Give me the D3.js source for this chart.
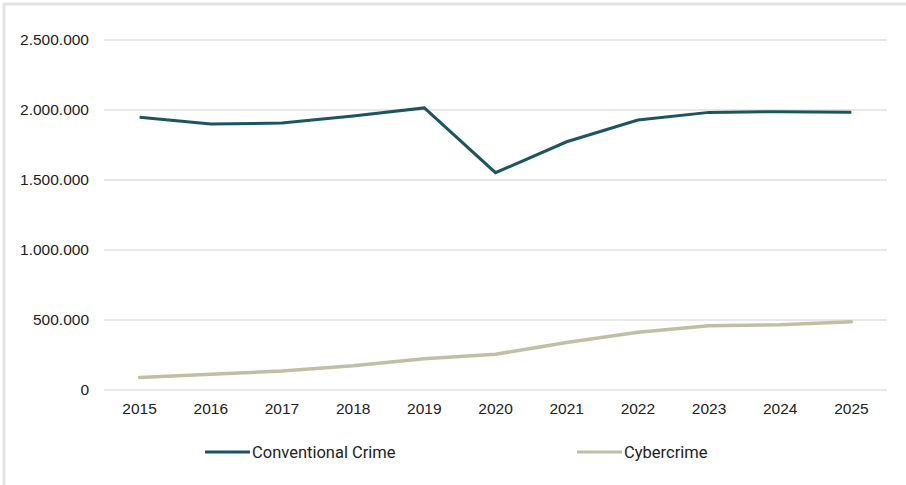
<!DOCTYPE html>
<html>
<head>
<meta charset="utf-8">
<script src="https://cdn.jsdelivr.net/npm/d3@7"></script>
<style>
  html, body { margin: 0; padding: 0; background: #fff; }
  svg { display: block; }
</style>
</head>
<body>
<svg id="chart" width="906" height="485"></svg>
<script>
const years = ["2015","2016","2017","2018","2019","2020","2021","2022","2023","2024","2025"];
const conventional = [1948000, 1900000, 1907000, 1957000, 2015000, 1552000, 1773000, 1928000, 1983000, 1988000, 1984000];
const cyber = [90000, 112000, 136000, 174000, 224000, 255000, 340000, 412000, 459000, 466000, 488000];
const yTicks = [0, 500000, 1000000, 1500000, 2000000, 2500000];
const seriesNames = ["Conventional Crime", "Cybercrime"];
const seriesColors = ["#1a5560", "#c0bfa6"];

const svg = d3.select("#chart");
const mLeft = 104, mRight = 887, mTop = 40, mBottom = 390;

// frame
svg.append("line").attr("x1", 4).attr("x2", 906).attr("y1", 4).attr("y2", 4)
  .attr("stroke", "#e3e3e3").attr("stroke-width", 3);
svg.append("line").attr("x1", 4).attr("x2", 4).attr("y1", 3).attr("y2", 485)
  .attr("stroke", "#e3e3e3").attr("stroke-width", 3);

const x = d3.scaleBand().domain(years).range([mLeft, mRight]);
const y = d3.scaleLinear().domain([0, 2500000]).range([mBottom, mTop]);
const fmt = v => d3.format(",")(v).replace(/,/g, ".");

// grid
svg.append("g").selectAll("line").data(yTicks).join("line")
  .attr("x1", mLeft).attr("x2", mRight)
  .attr("y1", d => y(d)).attr("y2", d => y(d))
  .attr("stroke", "#e0e0e0").attr("stroke-width", 1.3);

// y axis labels
const yAxis = d3.axisLeft(y).tickValues(yTicks).tickFormat(fmt).tickSize(0).tickPadding(15);
const gy = svg.append("g").attr("transform", `translate(${mLeft},0)`).call(yAxis);
gy.select(".domain").remove();
gy.selectAll("text").attr("font-family", "Liberation Sans, Arial, sans-serif")
  .attr("font-size", 15.5).attr("fill", "#222");

// x axis labels
const xAxis = d3.axisBottom(x).tickSize(0).tickPadding(13);
const gx = svg.append("g").attr("transform", `translate(0,${mBottom})`).call(xAxis);
gx.select(".domain").remove();
gx.selectAll("text").attr("font-family", "Liberation Sans, Arial, sans-serif")
  .attr("font-size", 15.5).attr("fill", "#222");

const line = d3.line().x((d, i) => x(years[i]) + x.bandwidth() / 2).y(d => y(d));

svg.append("path").datum(cyber).attr("d", line)
  .attr("fill", "none").attr("stroke", seriesColors[1]).attr("stroke-width", 3.5)
  .attr("stroke-linejoin", "round").attr("stroke-linecap", "round");
svg.append("path").datum(conventional).attr("d", line)
  .attr("fill", "none").attr("stroke", seriesColors[0]).attr("stroke-width", 3)
  .attr("stroke-linejoin", "miter");

// legend
const legX = [205, 577];
const lg = svg.append("g").selectAll("g").data(seriesNames).join("g")
  .attr("transform", (d, i) => `translate(${legX[i]},452)`);
lg.append("line").attr("x1", 0).attr("x2", 45).attr("y1", 0).attr("y2", 0)
  .attr("stroke", (d, i) => seriesColors[i]).attr("stroke-width", 3);
lg.append("text").attr("x", 47).attr("y", 0).attr("dy", "0.35em")
  .attr("font-family", "Roboto, sans-serif").attr("font-size", 16.5)
  .attr("fill", "#222").text(d => d);
</script>
</body>
</html>
